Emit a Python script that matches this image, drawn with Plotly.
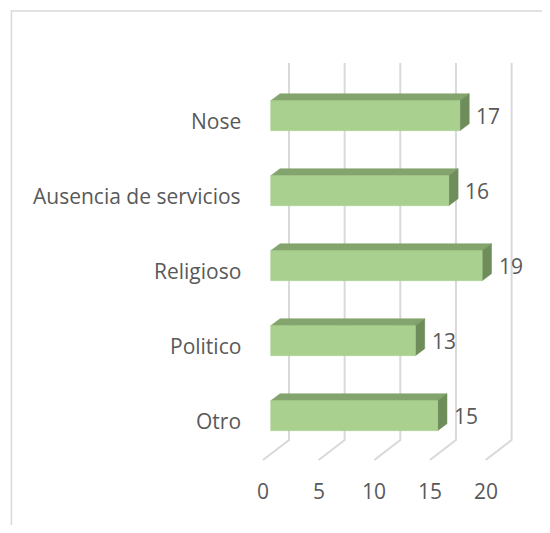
import plotly.graph_objects as go

# ---- data ----
categories = ["Otro", "Politico", "Religioso", "Ausencia de servicios", "Nose"]
values = [15, 13, 19, 16, 17]
tick_values = [0, 5, 10, 15, 20]

# ---- style / geometry constants (3D-look offsets in axis units) ----
FRONT_OFF = 0.69      # bar front face starts this far right of floor-front zero
BACK_OFF = 1.53       # bar back face x offset
WALL_OFF = 2.336      # back wall x offset
DEPTH_Y = 0.0933      # vertical shift of bar back face
HALF_H = 0.2          # half of bar thickness
FLOOR_FRONT_Y = -0.591
FLOOR_BACK_Y = -0.324
GRID_TOP_Y = 4.703
LABEL_GAP = 0.45
CAT_LABEL_DY = -0.067
TICK_LABEL_Y = -1.0

FRONT_COL = "#a9d08e"
TOP_COL = "#84a46d"
SIDE_COL = "#6f8d5a"
GRID_COL = "#d9d9d9"
TEXT_COL = "#595959"
FONT = "Open Sans"

fig = go.Figure()

# gridlines (back wall verticals + floor diagonals)
for t in tick_values:
    fig.add_trace(go.Scatter(
        x=[t + WALL_OFF, t + WALL_OFF, t],
        y=[GRID_TOP_Y, FLOOR_BACK_Y, FLOOR_FRONT_Y],
        mode="lines", line=dict(color=GRID_COL, width=2),
        hoverinfo="skip", showlegend=False))

# bars
for i, (cat, v) in enumerate(zip(categories, values)):
    x0f, x1f = FRONT_OFF, v + FRONT_OFF
    x0b, x1b = BACK_OFF, v + BACK_OFF
    yb, yt = i - HALF_H, i + HALF_H
    # top face
    fig.add_trace(go.Scatter(
        x=[x0f, x1f, x1b, x0b, x0f],
        y=[yt, yt, yt + DEPTH_Y, yt + DEPTH_Y, yt],
        fill="toself", fillcolor=TOP_COL, mode="lines",
        line=dict(color=TOP_COL, width=0.5),
        hoverinfo="skip", showlegend=False))
    # side face
    fig.add_trace(go.Scatter(
        x=[x1f, x1b, x1b, x1f, x1f],
        y=[yb, yb + DEPTH_Y, yt + DEPTH_Y, yt, yb],
        fill="toself", fillcolor=SIDE_COL, mode="lines",
        line=dict(color=SIDE_COL, width=0.5),
        hoverinfo="skip", showlegend=False))
    # front face
    fig.add_trace(go.Scatter(
        x=[x0f, x1f, x1f, x0f, x0f],
        y=[yb, yb, yt, yt, yb],
        fill="toself", fillcolor=FRONT_COL, mode="lines",
        line=dict(color=FRONT_COL, width=0.5),
        name=cat, showlegend=False))
    # value label
    fig.add_annotation(x=v + BACK_OFF + LABEL_GAP, y=i, text=str(v),
                       showarrow=False, xanchor="left", yanchor="middle",
                       font=dict(family=FONT, size=21, color=TEXT_COL))
    # category label
    fig.add_annotation(x=-0.025, xref="paper", y=i + CAT_LABEL_DY, text=cat,
                       showarrow=False, xanchor="right", yanchor="middle",
                       font=dict(family=FONT, size=21, color=TEXT_COL))

# x tick labels on the floor front
for t in tick_values:
    fig.add_annotation(x=t, y=TICK_LABEL_Y, text=str(t), showarrow=False,
                       xanchor="center", yanchor="middle",
                       font=dict(family=FONT, size=21, color=TEXT_COL))

# chart border: only the left and top edges are in view
fig.add_shape(type="line", xref="paper", yref="paper",
              x0=-0.852, x1=-0.852, y0=-0.1, y1=1.062,
              line=dict(color=GRID_COL, width=1.5), layer="below")
fig.add_shape(type="line", xref="paper", yref="paper",
              x0=-0.852, x1=1.2, y0=1.0598, y1=1.0598,
              line=dict(color=GRID_COL, width=1.5), layer="below")

# plot area: 280 x 485 px; figure sized so the page (with its 8px body margin) fits the window
fig.update_layout(
    width=542, height=517,
    margin=dict(l=242, r=20, t=32, b=0),
    paper_bgcolor="white", plot_bgcolor="white",
    xaxis=dict(range=[-1.168, 23.989], visible=False, fixedrange=True),
    yaxis=dict(range=[5.009 - 485 / 75, 5.009], visible=False, fixedrange=True),
    showlegend=False,
)

fig.write_html("out.html")
